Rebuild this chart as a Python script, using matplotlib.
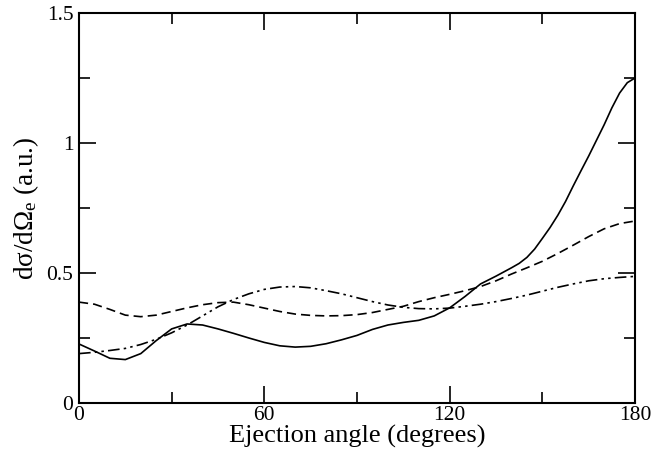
import numpy as np
import matplotlib
matplotlib.use("Agg")
import matplotlib.pyplot as plt
from matplotlib.ticker import MultipleLocator

plt.rcParams["font.family"] = ["Liberation Serif", "DejaVu Serif"]
plt.rcParams["mathtext.fontset"] = "custom"
plt.rcParams["mathtext.rm"] = "Liberation Serif"
plt.rcParams["mathtext.it"] = "Liberation Serif:italic"

# ejection angle (degrees)
angle = np.arange(0, 181, 5)

# solid curve is sampled finer where it rises steeply
angle_solid = list(range(0, 140, 5)) + [140, 142.5, 145, 147.5, 150, 152.5, 155, 157.5,
                                        160, 162.5, 165, 167.5, 170, 172.5, 175, 177.5, 180]
solid = [0.227, 0.200, 0.172, 0.167, 0.190, 0.240, 0.285, 0.304, 0.300, 0.285,
         0.268, 0.250, 0.233, 0.220, 0.215, 0.218, 0.228, 0.243, 0.260, 0.283,
         0.300, 0.310, 0.318, 0.335, 0.366, 0.410, 0.458, 0.488,
         0.520, 0.537, 0.560, 0.592, 0.633, 0.675, 0.722, 0.775,
         0.835, 0.893, 0.950, 1.010, 1.070, 1.135, 1.192, 1.232, 1.250]
dashed = [0.388, 0.380, 0.360, 0.338, 0.332, 0.338, 0.352, 0.366, 0.378, 0.386,
          0.388, 0.378, 0.365, 0.352, 0.342, 0.337, 0.335, 0.336, 0.340, 0.348,
          0.360, 0.372, 0.390, 0.405, 0.418, 0.432, 0.448, 0.470, 0.496, 0.520,
          0.545, 0.575, 0.607, 0.640, 0.670, 0.690, 0.700]
dashdot = [0.190, 0.195, 0.202, 0.210, 0.225, 0.245, 0.270, 0.300, 0.335, 0.370,
           0.398, 0.420, 0.437, 0.446, 0.448, 0.443, 0.432, 0.420, 0.405, 0.390,
           0.377, 0.368, 0.363, 0.362, 0.365, 0.372, 0.380, 0.390, 0.402, 0.415,
           0.430, 0.445, 0.458, 0.470, 0.478, 0.483, 0.487]

xticks = [0, 60, 120, 180]
yticks = [0, 0.5, 1.0, 1.5]
ytick_labels = ["0", "0.5", "1", "1.5"]

fig = plt.figure(figsize=(6.55, 4.61), dpi=100)
ax = fig.add_axes([0.1206, 0.1258, 0.8489, 0.8460])

ax.plot(angle_solid, solid, color="black", lw=1.2)
ax.plot(angle, dashed, color="black", lw=1.2, linestyle=(0, (5.5, 3)))
ax.plot(angle, dashdot, color="black", lw=1.2, linestyle=(0, (7, 2.5, 1.5, 2.5, 1.5, 2.5)))

ax.set_xlim(0, 180)
ax.set_ylim(0, 1.5)
ax.set_xticks(xticks, [str(t) for t in xticks])
ax.set_yticks(yticks, ytick_labels)
ax.xaxis.set_minor_locator(MultipleLocator(30))
ax.yaxis.set_minor_locator(MultipleLocator(0.25))

ax.tick_params(which="both", direction="in", top=True, right=True, width=1.2, labelsize=15.5)
ax.tick_params(which="major", length=12)
ax.tick_params(axis="x", which="major", pad=2)
ax.tick_params(axis="y", which="major", pad=4)
ax.tick_params(which="minor", length=8)
for s in ax.spines.values():
    s.set_linewidth(1.5)

ax.set_xlabel("Ejection angle (degrees)", fontsize=19, labelpad=0)
ax.set_ylabel(r"dσ/dΩ$_\mathrm{e}$ (a.u.)", fontsize=19.5, labelpad=4)

fig.savefig("out.png", dpi=100)
